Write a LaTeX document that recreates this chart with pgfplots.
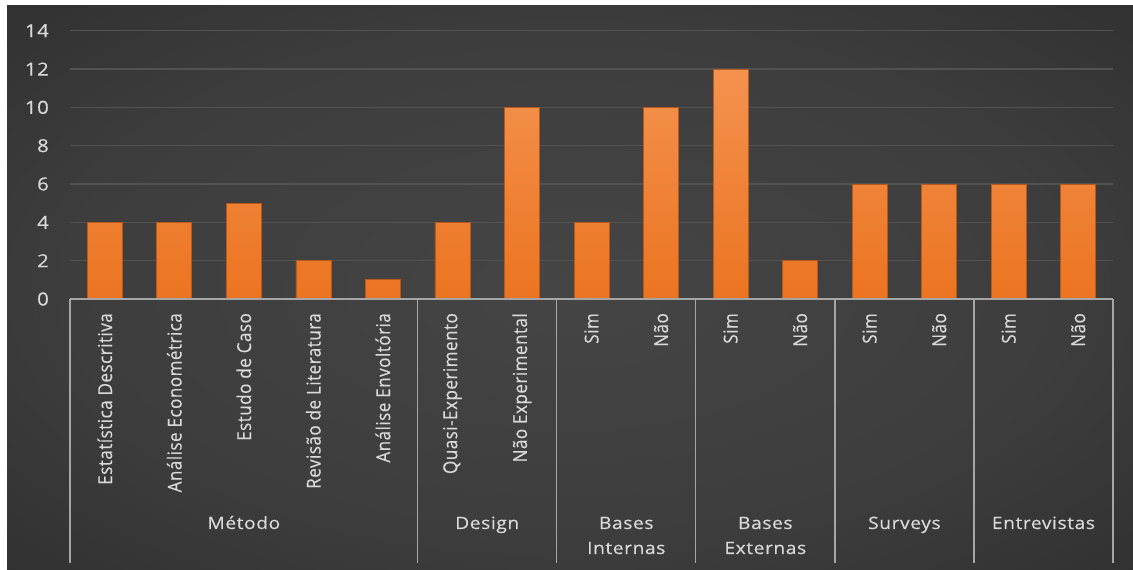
\documentclass[border=0pt]{standalone}
\usepackage{graphicx}
\usepackage{fontspec}
\setmainfont{Open Sans}[LetterSpace=3.0, FakeBold=0.35]
\usepackage{pgfplots}
\pgfplotsset{compat=1.18}

\definecolor{bgdark}{HTML}{262626}
\definecolor{bglight}{HTML}{454545}
\definecolor{txt}{HTML}{D9D9D9}
\definecolor{gridc}{HTML}{525252}
\definecolor{sepc}{HTML}{A6A6A6}
\definecolor{bartop}{HTML}{F4924F}
\definecolor{barbot}{HTML}{EB7420}
\definecolor{baredge}{HTML}{B8581A}

% soft spot of light behind the bars, fading to a dark frame
\pgfdeclareradialshading{panel}{\pgfpoint{0bp}{0bp}}{%
  color(0bp)=(bglight); color(22bp)=(bglight!75!bgdark);
  color(48bp)=(bgdark); color(80bp)=(bgdark)}

\newcommand\lbl{\fontsize{17bp}{20bp}\selectfont}
\newcommand\numfont{\fontsize{18bp}{21bp}\selectfont}
\newcommand\hs[1]{\scalebox{1.13}[1]{#1}}   % horizontal labels, slightly wide
\newcommand\vs[1]{\scalebox{1}[1.13]{#1}}   % rotated labels

\begin{document}
\begin{tikzpicture}[x=1bp,y=1bp]
\useasboundingbox (0,0) rectangle (1133,570);
\fill[white] (0,0) rectangle (1133,570);
\shade[shading=panel] (7,0) rectangle (1133,564);
\begin{axis}[
  at={(70bp,271bp)}, anchor=south west,
  scale only axis, width=1043bp, height=268.3bp,
  xmin=-0.5, xmax=14.5, ymin=0, ymax=14,
  clip=false,
  axis line style={draw=none},
  major tick length=0pt,
  ymajorgrids, grid style={gridc, line width=1.2bp},
  ytick={0,2,4,6,8,10,12,14},
  yticklabels={\hs{0},\hs{2},\hs{4},\hs{6},\hs{8},\hs{10},\hs{12},\hs{14}},
  yticklabel style={font=\numfont, text=txt, inner sep=0pt, anchor=east},
  yticklabel shift=21bp,
  xtick={0,...,14},
  xticklabels={\vs{Estatística Descritiva},\vs{Análise Econométrica},\vs{Estudo de Caso},
    \vs{Revisão de Literatura},\vs{Análise Envoltória},\vs{Quasi-Experimento},
    \vs{Não Experimental},\vs{Sim},\vs{Não},\vs{Sim},\vs{Não},\vs{Sim},\vs{Não},\vs{Sim},\vs{Não}},
  xticklabel style={font=\lbl, text=txt, inner sep=0pt, rotate=90, anchor=east},
  xticklabel shift=14bp,
]
\addplot[ybar, bar width=35bp, draw=baredge, line width=0.7bp,
  top color=bartop, bottom color=barbot]
  coordinates {(0,4) (1,4) (2,5) (3,2) (4,1) (5,4) (6,10) (7,4) (8,10)
               (9,12) (10,2) (11,6) (12,6) (13,6) (14,6)};

% category axis with group separators
\draw[sepc, line width=1.3bp] (axis cs:-0.5,0) -- (axis cs:14.5,0);
\draw[sepc, line width=1.3bp] (axis cs:-0.5,0) -- ++(0pt,-264bp);
\draw[sepc, line width=1.3bp] (axis cs:4.5,0) -- ++(0pt,-264bp);
\draw[sepc, line width=1.3bp] (axis cs:6.5,0) -- ++(0pt,-264bp);
\draw[sepc, line width=1.3bp] (axis cs:8.5,0) -- ++(0pt,-264bp);
\draw[sepc, line width=1.3bp] (axis cs:10.5,0) -- ++(0pt,-264bp);
\draw[sepc, line width=1.3bp] (axis cs:12.5,0) -- ++(0pt,-264bp);
\draw[sepc, line width=1.3bp] (axis cs:14.5,0) -- ++(0pt,-264bp);

% group names
\begin{scope}[every node/.style={font=\lbl, text=txt, anchor=base, inner sep=0pt}]
\node at ([yshift=-230bp]axis cs:2,0)    {\hs{Método}};
\node at ([yshift=-230bp]axis cs:5.5,0)  {\hs{Design}};
\node at ([yshift=-230bp]axis cs:7.5,0)  {\hs{Bases}};
\node at ([yshift=-255bp]axis cs:7.5,0)  {\hs{Internas}};
\node at ([yshift=-230bp]axis cs:9.5,0)  {\hs{Bases}};
\node at ([yshift=-255bp]axis cs:9.5,0)  {\hs{Externas}};
\node at ([yshift=-230bp]axis cs:11.5,0) {\hs{Surveys}};
\node at ([yshift=-230bp]axis cs:13.5,0) {\hs{Entrevistas}};
\end{scope}
\end{axis}
\end{tikzpicture}
\end{document}
